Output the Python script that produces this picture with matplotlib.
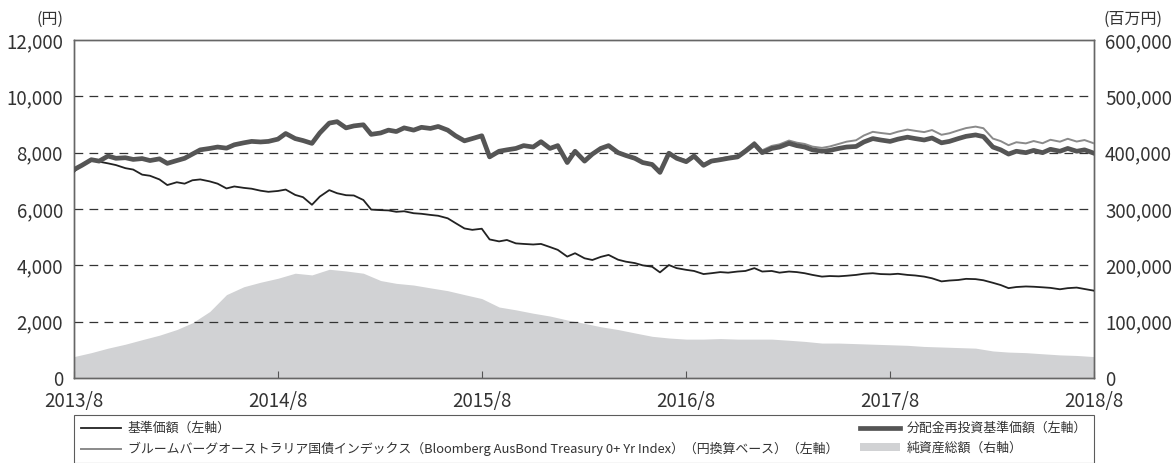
import numpy as np
import pandas as pd
import matplotlib
matplotlib.use("Agg")
import matplotlib.pyplot as plt
from matplotlib.patches import Patch
from matplotlib.lines import Line2D

plt.rcParams['font.family'] = ['Noto Sans CJK JP', 'DejaVu Sans']

# half-monthly points for the price lines, 2013/8 .. 2018/8
dates = pd.date_range("2013-08-01", "2018-08-01", freq="SMS")
# monthly points for the net assets area
dates_m = pd.date_range("2013-08-01", "2018-08-01", freq="MS")

nav = [7330, 7550, 7750, 7680, 7620, 7560, 7450, 7400, 7220, 7180,
       7050, 6850, 6950, 6900, 7020, 7050, 6980, 6900, 6730, 6800,
       6750, 6720, 6650, 6610, 6640, 6690, 6500, 6420, 6150, 6440,
       6670, 6560, 6490, 6480, 6320, 5980, 5960, 5950, 5900, 5920,
       5850, 5830, 5790, 5760, 5670, 5500, 5310, 5260, 5300, 4920,
       4850, 4900, 4780, 4760, 4740, 4760, 4650, 4550, 4310, 4430,
       4250, 4190, 4300, 4370, 4200, 4130, 4080, 4000, 3950, 3750,
       4010, 3900, 3840, 3800, 3690, 3720, 3760, 3740, 3780, 3800,
       3900, 3780, 3800, 3740, 3780, 3760, 3720, 3660, 3600, 3620,
       3610, 3630, 3660, 3700, 3720, 3690, 3680, 3700, 3660, 3640,
       3600, 3540, 3430, 3460, 3480, 3520, 3510, 3470, 3380, 3300,
       3190, 3230, 3250, 3240, 3220, 3200, 3150, 3190, 3210, 3160,
       3100]

nav_reinvest = [7400, 7550, 7750, 7700, 7880, 7800, 7820, 7760, 7790, 7720,
                7780, 7620, 7720, 7800, 7950, 8100, 8150, 8200, 8160, 8280,
                8350, 8400, 8380, 8400, 8480, 8680, 8500, 8430, 8330, 8700,
                9050, 9100, 8880, 8950, 8990, 8650, 8700, 8800, 8750, 8880,
                8800, 8900, 8860, 8930, 8800, 8600, 8420, 8500, 8600, 7850,
                8050, 8100, 8150, 8250, 8200, 8390, 8150, 8250, 7650, 8050,
                7700, 7950, 8150, 8250, 8000, 7900, 7800, 7650, 7580, 7300,
                7980, 7800, 7680, 7880, 7550, 7700, 7750, 7800, 7850, 8050,
                8300, 8000, 8150, 8200, 8330, 8250, 8200, 8100, 8050, 8080,
                8150, 8200, 8220, 8380, 8500, 8450, 8400, 8480, 8550, 8500,
                8450, 8520, 8350, 8400, 8500, 8580, 8630, 8570, 8200, 8100,
                7950, 8050, 8000, 8080, 8000, 8120, 8050, 8150, 8050, 8100,
                7980]

bench = [7400, 7550, 7750, 7700, 7880, 7800, 7820, 7760, 7790, 7720,
         7780, 7620, 7720, 7800, 7950, 8100, 8150, 8200, 8160, 8280,
         8350, 8400, 8380, 8400, 8480, 8680, 8500, 8430, 8330, 8700,
         9050, 9100, 8880, 8950, 8990, 8650, 8700, 8800, 8750, 8880,
         8800, 8900, 8860, 8930, 8800, 8600, 8420, 8500, 8600, 7850,
         8050, 8100, 8150, 8250, 8200, 8390, 8150, 8250, 7650, 8050,
         7710, 7960, 8165, 8265, 8020, 7920, 7825, 7675, 7610, 7335,
         8020, 7845, 7730, 7925, 7595, 7740, 7790, 7850, 7910, 8120,
         8380, 8085, 8240, 8295, 8430, 8355, 8310, 8215, 8170, 8220,
         8310, 8390, 8440, 8610, 8740, 8700, 8660, 8745, 8820, 8775,
         8730, 8803, 8635, 8688, 8790, 8873, 8925, 8868, 8500, 8410,
         8265, 8370, 8330, 8413, 8335, 8458, 8390, 8493, 8395, 8448,
         8330]

net_assets = [38000, 45000, 53000, 60000, 68000, 76000, 86000, 98000, 118000, 148000,
              162000, 170000, 177000, 186000, 183000, 193000, 190000, 186000, 173000, 168000,
              165000, 160000, 155000, 148000, 141000, 126000, 121000, 115000, 110000, 103000,
              97000, 91000, 86000, 80000, 74000, 71000, 69000, 69000, 70000, 69000,
              69000, 69000, 67000, 65000, 62000, 62000, 61000, 60000, 59000, 58000,
              56000, 55000, 54000, 53000, 48000, 46000, 45000, 43000, 41000, 40000,
              38000]

xtick_dates = pd.to_datetime(["2013-08-01", "2014-08-01", "2015-08-01",
                              "2016-08-01", "2017-08-01", "2018-08-01"])
xtick_labels = ["2013/8", "2014/8", "2015/8", "2016/8", "2017/8", "2018/8"]

fig = plt.figure(figsize=(11.71, 4.63), dpi=100)
ax = fig.add_axes([74 / 1171, 85 / 463, 1020 / 1171, 338 / 463])
ax2 = ax.twinx()

# area on right axis, drawn behind the lines
ax2.fill_between(dates_m, net_assets, 0, color="#d1d2d4", lw=0)
ax2.set_ylim(0, 600000)
ax.set_zorder(ax2.get_zorder() + 1)
ax.patch.set_visible(False)

for yv in [2000, 4000, 6000, 8000, 10000]:
    ax.axhline(yv, color="#333333", lw=0.9, dashes=(7, 5), zorder=1)

ax.plot(dates, nav, color="#222222", lw=1.3, zorder=3)
ax.plot(dates, bench, color="#8a8a8a", lw=1.4, zorder=3)
ax.plot(dates, nav_reinvest, color="#555555", lw=3.4, zorder=4)

ax.set_xlim(dates[0], dates[-1])
ax.set_ylim(0, 12000)
ax.set_yticks(np.arange(0, 12001, 2000))
ax.set_yticklabels([f"{v:,}" for v in range(0, 12001, 2000)])
ax2.set_yticks(np.arange(0, 600001, 100000))
ax2.set_yticklabels([f"{v:,}" for v in range(0, 600001, 100000)])
ax.set_xticks(xtick_dates)
ax.set_xticklabels(xtick_labels)

ax.tick_params(axis="y", length=0, labelsize=13.5, colors="#333333", pad=8)
ax2.tick_params(axis="y", length=0, labelsize=13.5, colors="#333333", pad=8)
ax.tick_params(axis="x", direction="in", length=5, color="#555555",
               labelsize=13.5, labelcolor="#333333", pad=9)
for a in (ax, ax2):
    for s in a.spines.values():
        s.set_color("#666666")
        s.set_linewidth(1.0)

fig.text(50 / 1171, 1 - 19 / 463, "(円)", ha="center", va="center", fontsize=11.5, color="#333333")
fig.text(1133 / 1171, 1 - 19 / 463, "(百万円)", ha="center", va="center", fontsize=11.5, color="#333333")

handles = [
    Line2D([], [], color="#222222", lw=1.3),
    Line2D([], [], color="#8a8a8a", lw=1.4),
    Line2D([], [], color="#555555", lw=3.4),
    Patch(facecolor="#d1d2d4", edgecolor="none"),
]
labels = [
    "基準価額（左軸）",
    "ブルームバーグオーストラリア国債インデックス（Bloomberg AusBond Treasury 0+ Yr Index）（円換算ベース）（左軸）",
    "分配金再投資基準価額（左軸）",
    "純資産総額（右軸）",
]
leg = fig.legend(handles, labels, ncol=2, loc="lower left", mode="expand",
                 bbox_to_anchor=(74 / 1171, 0, 1020 / 1171, 49 / 463),
                 fontsize=9.3, frameon=True, fancybox=False, handlelength=3.1,
                 handleheight=0.6, labelspacing=0.5, borderpad=0.55,
                 handletextpad=0.5, borderaxespad=0)
leg.get_frame().set_edgecolor("#333333")
leg.get_frame().set_linewidth(0.8)
for t in leg.get_texts():
    t.set_color("#333333")

fig.savefig("out.png", dpi=100)
